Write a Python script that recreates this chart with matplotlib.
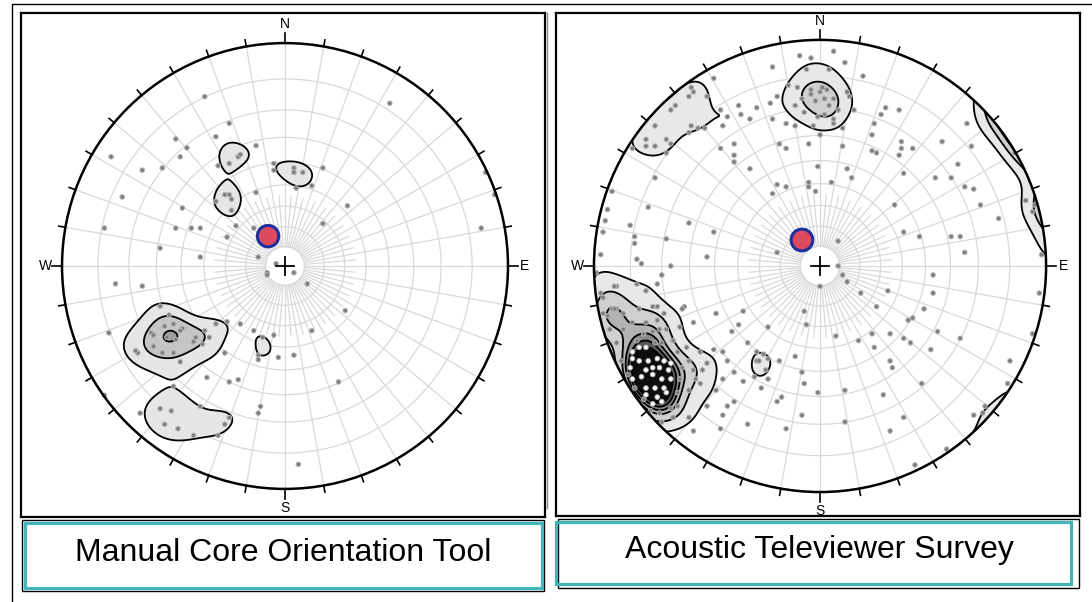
import numpy as np
import matplotlib
matplotlib.use("Agg")
import matplotlib.pyplot as plt
from matplotlib.patches import Circle, Rectangle

plt.rcParams['font.family'] = ['Liberation Sans', 'DejaVu Sans']

# Poles on the equal-angle lower-hemisphere net, (east, north) in percent of the primitive radius
mcot_poles = np.array([
    (-36, 76), (-25, 64), (47, 73), (-49, 57), (-31, 58), (-44, 53), (-78, 49), (-47, 49),
    (-55, 44), (-64, 43), (-73, 31), (-46, 26), (-81, 17), (-49, 17), (-42, 17), (-38, 17),
    (-22, 18), (-14, 17), (-26, 13), (-56, 8), (-38, 4), (-12, 4), (-4, 1), (-8, -3), (-8, -4),
    (4, -3), (10, -8), (-76, -8), (-64, -9), (90, 42), (88, 17), (28, 27), (17, 19), (17, 44),
    (-13, 33), (94, 32), (27, -20),
    # upper set
    (-21, 49), (-20, 50), (-25, 46), (-30, 45), (-13, 54), (-5, 46), (-5, 43), (4, 44), (4, 42),
    (8, 42), (12, 36), (5, 35), (-27, 32), (-25, 32), (-24, 30), (-31, 29), (-24, 25),
    # south-west set
    (-56, -18), (-52, -22), (-50, -26), (-46, -28), (-47, -29), (-54, -27), (-60, -30), (-31, -26),
    (-36, -29), (-34, -32), (-40, -32), (-41, -34), (-37, -35), (-59, -36), (-55, -39), (-50, -39),
    (-47, -43), (-66, -39), (-67, -38), (-53, -32), (-49, -33), (-59, -31),
    (-26, -25), (-20, -26), (-27, -39), (-35, -50), (-25, -52), (-21, -51), (-50, -54), (-79, -30),
    (-14, -29), (-10, -32), (-5, -31), (-12, -40), (-12, -42), (-3, -41), (4, -40), (12, -29),
    (-56, -64), (-51, -65), (-54, -71), (-48, -73), (-41, -76), (-38, -63), (-30, -76), (-27, -71),
    (-25, -68), (-65, -66),
    (-81, -58), (-11, -63), (-12, -66), (24, -52), (6, -89),
])

atv_poles = np.array([
    # north
    (6, 95), (-9, 93), (-4, 92), (11, 90), (-21, 88), (-6, 87), (4, 87), (19, 84), (-47, 83),
    (-10, 79), (-4, 78), (1, 79), (3, 78), (0, 77), (-4, 76), (-2, 73), (2, 74), (-19, 75), (6, 74),
    (4, 71), (-7, 68), (-1, 66), (2, 67), (8, 69), (6, 65), (12, 77), (13, 75), (-22, 72),
    (-11, 71), (-14, 80), (-8, 74),
    (-57, 79), (-56, 77), (-58, 75), (-50, 75), (-64, 71), (-66, 69), (-36, 71), (-28, 70),
    (-44, 69), (-41, 66), (-35, 67), (-31, 65), (-21, 65), (-15, 63), (-11, 62), (-3, 62), (0, 58),
    (6, 63), (10, 61), (15, 69), (24, 63), (27, 67), (29, 70), (35, 69), (65, 63),
    (-57, 62), (-54, 61), (-51, 61), (-43, 62), (-58, 59), (-68, 56), (-66, 54), (-68, 50),
    (-77, 56), (-77, 53), (-73, 53), (-83, 52), (-73, 62),
    (-38, 54), (-44, 52), (-38, 49), (-38, 46), (-31, 43), (-18, 54), (-15, 52), (-5, 54), (10, 53),
    (23, 58), (23, 51), (25, 50), (36, 55), (36, 52), (41, 52), (35, 49), (54, 55), (67, 53),
    (61, 45), (51, 39), (58, 39), (37, 41), (12, 43), (-1, 44), (14, 39),
    # west
    (-73, 39), (-92, 33), (-94, 25), (-95, 20), (-96, 15), (-97, 5), (-76, 26), (-58, 19), (-47, 15),
    (-84, 18), (-82, 13), (-82, 10), (-68, 12), (-50, 4), (-81, 3), (-79, 1), (-66, 0), (-90, -9),
    (-81, -8), (-72, -8), (-77, -11), (-70, -4), (-99, -3), (-97, -12),
    # centre and east
    (-19, 36), (-15, 35), (-5, 37), (-5, 35), (-2, 33), (5, 37), (-21, 32), (-19, 6), (8, 11),
    (8, 0), (10, -4), (12, -7), (0, -9), (18, -12), (30, -11), (50, -12), (50, -4), (33, 27),
    (71, 27), (64, 35), (68, 34), (79, 21), (91, 29), (94, 24), (37, 15), (44, 13), (58, 13),
    (62, 13), (64, 6), (98, 5), (97, -12), (86, 50), (95, 27),
    # south
    (-46, -21), (-36, -26), (-34, -20), (-39, -29), (-32, -34), (-23, -27), (-28, -38), (-25, -39),
    (-23, -41), (-28, -42), (-27, -42), (-24, -46), (-23, -50), (-18, -42), (-29, -49), (-34, -51),
    (-26, -54), (-17, -58), (-19, -60), (-32, -70), (-44, -72), (-56, -73), (-15, -72), (-11, -40),
    (-8, -47), (-7, -52), (-1, -56), (-8, -66), (-7, -20), (-6, -26), (7, -31), (11, -55), (11, -69),
    (17, -33), (23, -30), (25, -18), (24, -36), (31, -30), (31, -42), (32, -45), (28, -57),
    (31, -73), (37, -67), (37, -32), (40, -34), (39, -24), (41, -23), (46, -19), (52, -29),
    (49, -37), (45, -52), (62, -32), (73, -62), (72, -65), (68, -66), (83, -52), (84, -42),
    (94, -30), (56, -81), (42, -88), (-72, -18), (-60, -18), (-92, -19), (-90, -19), (-96, -21),
    # south-west set
    (-83, -38), (-80, -36), (-77, -36), (-73, -34), (-70, -34), (-83, -41), (-80, -42), (-76, -42),
    (-72, -41), (-69, -42), (-66, -43), (-84, -45), (-77, -46), (-74, -45), (-71, -45), (-67, -46),
    (-79, -49), (-74, -48), (-70, -50), (-66, -50), (-77, -54), (-73, -54), (-69, -54), (-77, -57),
    (-72, -58), (-68, -56), (-74, -61), (-70, -60), (-81, -33), (-78, -30), (-74, -29), (-71, -28),
    (-83, -50),
    (-87, -28), (-90, -34), (-88, -42), (-85, -48), (-82, -54), (-78, -59), (-75, -64), (-71, -65),
    (-66, -63), (-63, -62), (-63, -56), (-62, -50), (-61, -45), (-63, -38), (-65, -33), (-68, -28),
    (-72, -24), (-77, -25), (-83, -25), (-93, -28), (-59, -36), (-58, -42), (-56, -46), (-55, -50),
    (-58, -55), (-53, -52), (-52, -46), (-53, -38), (-62, -27), (-69, -21), (-74, -18), (-80, -19),
    (-87, -21), (-94, -22), (-96, -14), (-91, -19), (-56, -25), (-47, -37), (-50, -43), (-43, -50),
    (-46, -55), (-50, -62), (-58, -67), (-65, -67), (-70, -69), (-41, -42), (-43, -38),
    (-91, -9), (-61, -19), (-38, -47), (-38, -60), (-41, -62), (-43, -66),
])

# borehole axis marked on each net
mcot_axis = (-7.6, 13.4)
atv_axis = (-8.0, 11.5)

titles = ["Manual Core Orientation Tool", "Acoustic Televiewer Survey"]

GRID = '#d9d9d9'
TEAL = '#43b5b8'


def net_vectors(e, n):
    # equal-angle net coordinates -> unit vectors (x east, y north, z up)
    x = np.asarray(e, float) / 100.0
    y = np.asarray(n, float) / 100.0
    theta = 2 * np.arctan(np.hypot(x, y))
    az = np.arctan2(x, y)
    return np.stack([np.sin(theta) * np.sin(az),
                     np.sin(theta) * np.cos(az),
                     -np.cos(theta)], axis=-1)


def fisher_density(grid_vecs, pole_vecs, k):
    # axial Fisher kernel, scaled so a uniform distribution gives 1
    dens = np.zeros(grid_vecs.shape[:-1])
    for p in pole_vecs:
        dens += np.exp(k * (np.abs(grid_vecs @ p) - 1.0))
    return dens * k / len(pole_vecs)


def draw_net(ax, poles, axis_pole, levels, fills, k, white_above):
    # polar grid
    for dip in range(10, 90, 10):
        r = np.tan(np.radians(dip) / 2)
        ax.add_patch(Circle((0, 0), r, fill=False, ec=GRID, lw=0.9, zorder=1))
    r0 = np.tan(np.radians(5))
    r_short = np.tan(np.radians(17.5))
    for az in range(0, 360, 5):
        a = np.radians(az)
        r1 = 1.0 if az % 10 == 0 else r_short
        ax.plot([r0 * np.sin(a), r1 * np.sin(a)], [r0 * np.cos(a), r1 * np.cos(a)],
                color=GRID, lw=0.9, zorder=1)

    # density contours
    g = np.linspace(-1.06, 1.06, 321)
    X, Y = np.meshgrid(g, g)
    pv = net_vectors(poles[:, 0], poles[:, 1])
    D = fisher_density(net_vectors(X * 100, Y * 100), pv, k)
    clip = Circle((0, 0), 1.0, transform=ax.transData)
    cf = ax.contourf(X, Y, D, levels=list(levels) + [max(D.max(), levels[-1]) + 1],
                     colors=fills, zorder=2)
    cl = ax.contour(X, Y, D, levels=levels, colors='k', linewidths=1.3, zorder=3)
    cf.set_clip_path(clip)
    cl.set_clip_path(clip)

    # poles, light where the density is highest
    dp = fisher_density(pv, pv, k)
    face = np.where(dp >= white_above, 'white', '#7d7d7d')
    ax.scatter(poles[:, 0] / 100, poles[:, 1] / 100, s=11, c=face,
               edgecolors='#b5b5b5', linewidths=0.7, zorder=4)

    # primitive, ticks and compass letters
    ax.add_patch(Circle((0, 0), 1.0, fill=False, ec='k', lw=1.8, zorder=5))
    for az in range(0, 360, 10):
        a = np.radians(az)
        r1 = 1.045 if az % 90 == 0 else 1.03
        ax.plot([np.sin(a), r1 * np.sin(a)], [np.cos(a), r1 * np.cos(a)],
                color='k', lw=1.2, zorder=5)
    for lab, (x, y) in zip("NESW", [(0, 1.085), (1.075, 0), (0, -1.085), (-1.075, 0)]):
        ax.text(x, y, lab, ha='center', va='center', fontsize=10, zorder=6)
    ax.plot([-0.04, 0.04], [0, 0], color='k', lw=1.3, zorder=5)
    ax.plot([0, 0], [-0.04, 0.04], color='k', lw=1.3, zorder=5)

    ax.add_patch(Circle((axis_pole[0] / 100, axis_pole[1] / 100), 0.048,
                        fc='#dc4a5e', ec='#1f2e9e', lw=2.2, zorder=7))


fig = plt.figure(figsize=(10.92, 6.02), dpi=100)

bg = fig.add_axes([0, 0, 1, 1])
bg.set_xlim(0, 1092)
bg.set_ylim(602, 0)
bg.axis('off')
bg.plot([11.5, 11.5, 1092], [602, 3.5, 3.5], color='k', lw=1)
bg.plot([547, 547], [13, 508], color='#8c8c8c', lw=1)

# caption boxes
bg.add_patch(Rectangle((22, 520), 522, 71, fill=False, ec='k', lw=1))
bg.add_patch(Rectangle((24.5, 522.5), 517, 65, fill=False, ec=TEAL, lw=2.3))
bg.add_patch(Rectangle((558, 519), 521, 69, fill=False, ec='k', lw=1))
bg.add_patch(Rectangle((555.5, 521.5), 515, 62, fill=False, ec=TEAL, lw=2.3))
bg.text(283, 553, titles[0], ha='center', va='center', fontsize=23)
bg.text(819, 550, titles[1], ha='center', va='center', fontsize=23)

ax1 = fig.add_axes([21 / 1092, 1 - 517 / 602, 524 / 1092, 504 / 602])
ax1.set_xlim(-1.184, 1.166)
ax1.set_ylim(-1.126, 1.135)
draw_net(ax1, mcot_poles, mcot_axis, [2.8, 5.2, 7.6],
         ['#e5e7e5', '#c3c6c3', '#9b9e9b'], k=90, white_above=99)

ax2 = fig.add_axes([556 / 1092, 1 - 516 / 602, 524 / 1092, 503 / 602])
ax2.set_xlim(-1.168, 1.150)
ax2.set_ylim(-1.106, 1.119)
draw_net(ax2, atv_poles, atv_axis, [2.6, 4.2, 5.4, 6.0, 6.5, 7.0],
         ['#e8e8e8', '#d0d0d0', '#b3b3b3', '#8a8a8a', '#555555', '#0d0d0d'],
         k=150, white_above=6.5)

for ax in (ax1, ax2):
    ax.set_xticks([])
    ax.set_yticks([])
    for s in ax.spines.values():
        s.set_linewidth(1.6)

fig.savefig("out.png", dpi=100)
